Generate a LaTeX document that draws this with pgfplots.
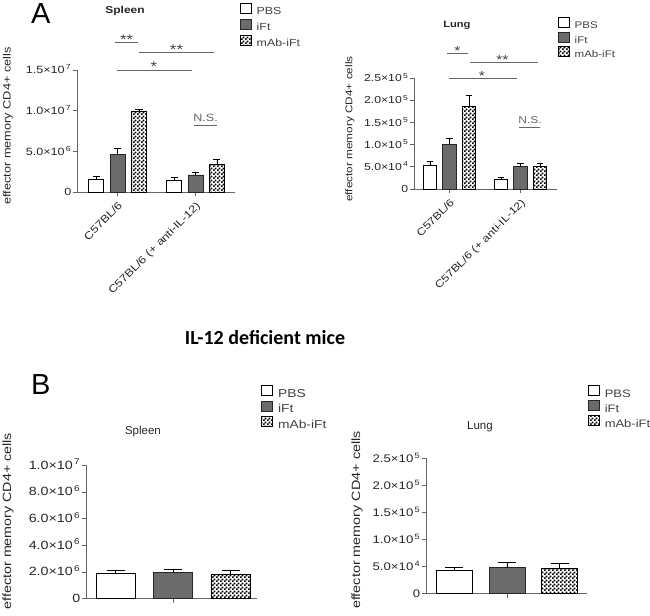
\documentclass[border=0pt]{standalone}
\usepackage{fontspec}
\setmainfont{Liberation Sans}[FakeStretch=1.2]
\newfontfamily\plainsans{Liberation Sans}
\newfontfamily\carlito{Carlito}
\usepackage{pgfplots}
\pgfplotsset{compat=1.18}
\usepackage{pgfplotstable}
\usetikzlibrary{patterns}

\pgfdeclarepatternformonly{finecheck}{\pgfpointorigin}{\pgfpoint{3.6bp}{3.6bp}}{\pgfpoint{3.6bp}{3.6bp}}{%
  \pgfpathrectangle{\pgfpointorigin}{\pgfpoint{1.8bp}{1.8bp}}%
  \pgfpathrectangle{\pgfpoint{1.8bp}{1.8bp}}{\pgfpoint{1.8bp}{1.8bp}}%
  \pgfusepath{fill}}

\newcommand{\fs}[1]{\fontsize{#1bp}{#1bp}\selectfont}
\newcommand{\sci}[3]{\mbox{\fs{#1}#2×10\textsuperscript{\,#3}}}
\newcommand{\zr}[1]{\mbox{\fs{#1}0}}
\newcommand{\lt}[2]{\mbox{\fs{#1}\hspace*{3bp}#2}}
\newcommand{\xl}[2]{\mbox{\fs{#1}#2}}
% y tick label placed at the left axis line: \ytl{xmin}{y}{text}
\newcommand{\ytl}[3]{\node[anchor=base east, inner sep=0pt, text=black!85, xshift=-5.5bp, yshift=-3.8bp] at (axis cs:#1,#2) {#3};}

% Panel A, spleen
\pgfplotstableread{
x pbs pbse ift ifte mab mabe
0 1.56e6 0.32e6 4.59e6 0.74e6 9.97e6 0.21e6
1 1.48e6 0.33e6 2.09e6 0.33e6 3.45e6 0.58e6
}\tabAspleen
% Panel A, lung
\pgfplotstableread{
x pbs pbse ift ifte mab mabe
0 5.40e4 0.84e4 1.007e5 1.42e4 1.853e5 2.48e4
1 2.18e4 0.45e4 5.02e4 0.68e4 5.02e4 0.84e4
}\tabAlung
% Panel B, spleen
\pgfplotstableread{
x pbs pbse ift ifte mab mabe
0 1.90e6 0.19e6 1.98e6 0.19e6 1.83e6 0.30e6
}\tabBspleen
% Panel B, lung
\pgfplotstableread{
x pbs pbse ift ifte mab mabe
0 4.26e4 0.63e4 4.82e4 0.87e4 4.70e4 0.85e4
}\tabBlung

\tikzset{sigline/.style={black!60, line width=0.8bp}}

\pgfplotsset{
  myaxis/.style={
    scale only axis, anchor=south west,
    /pgf/number format/assume math mode=true,
    axis x line*=bottom, axis y line*=left,
    axis line style={black!60, line width=0.8bp},
    tick style={black!60, line width=0.8bp},
    tick align=outside, major tick length=4bp,
    ymin=0, clip=false, scaled y ticks=false,
    legend cell align=left,
    legend image code/.code={\draw[##1, line width=0.8bp] (0bp,-1.5bp) rectangle (11bp,8.5bp);},
  },
  errs/.style={
    error bars/y dir=plus, error bars/y explicit,
    error bars/error bar style={line width=0.8bp, black},
    error bars/error mark options={rotate=90, black, line width=0.8bp, mark size=#1}},
  pbsbar/.style={ybar, bar shift=0pt, draw=black, fill=white, line width=0.8bp},
  iftbar/.style={ybar, bar shift=0pt, draw=black!85, fill=black!58, line width=0.8bp},
  mabbar/.style={ybar, bar shift=0pt, draw=black, pattern=finecheck, pattern color=black, line width=0.8bp},
}

\begin{document}
\begin{tikzpicture}
\path[use as bounding box] (0bp,0bp) rectangle (650bp,616bp);

% letters and heading
\node[anchor=base west, inner sep=0pt, font=\plainsans\fs{29}] at (31bp,592bp) {A};
\node[anchor=base west, inner sep=0pt, font=\plainsans\fs{29}] at (31bp,221bp) {B};
\node[anchor=base, inner sep=0pt, font=\carlito\bfseries\fs{20}] at (265bp,271bp) {IL-12 deficient mice};

% ---------- A spleen ----------
\begin{axis}[myaxis, at={(77bp,424bp)}, width=158bp, height=122bp,
  xmin=-0.52, xmax=1.506, ymax=1.5e7,
  ytick={0,5e6,1e7,1.5e7}, yticklabels={{},{},{},{}},
  xtick={0,1}, xticklabels={\xl{10.5}{C57BL/6},\xl{10.5}{C57BL/6 (+ anti-IL-12)}},
  xticklabel style={rotate=45, anchor=north east, text=black!85},
  ylabel={effector memory CD4+ cells},
  every axis y label/.style={at={(axis description cs:-0.437,0.541)}, rotate=90, anchor=center, font=\fs{10.6}, text=black!85},
  title={Spleen},
  every axis title/.style={at={(axis description cs:0.304,1.488)}, anchor=center, font=\bfseries\fs{10}, text=black!85},
  legend style={at={(axis description cs:1.03,1.55)}, anchor=north west, draw=none, fill=none, inner sep=0pt, row sep=0.5bp,
    text=black!75},
]
\addplot[pbsbar, bar width=0.19, errs=3.5bp] table[x expr=\thisrow{x}-0.275, y=pbs, y error=pbse]{\tabAspleen};
\addplot[iftbar, bar width=0.19, errs=3.5bp] table[x expr=\thisrow{x}, y=ift, y error=ifte]{\tabAspleen};
\addplot[mabbar, bar width=0.19, errs=3.5bp] table[x expr=\thisrow{x}+0.275, y=mab, y error=mabe]{\tabAspleen};
\legend{\lt{10.3}{PBS},\lt{10.3}{iFt},\lt{10.3}{mAb-iFt}}
\ytl{-0.52}{0}{\zr{10.5}}
\ytl{-0.52}{5e6}{\sci{10.5}{5.0}{6}}
\ytl{-0.52}{1e7}{\sci{10.5}{1.0}{7}}
\ytl{-0.52}{1.5e7}{\sci{10.5}{1.5}{7}}
\draw[sigline] (axis cs:-0.03,1.835e7) -- (axis cs:0.263,1.835e7);
\node[anchor=base, font=\fs{14}, text=black!75, yshift=-2bp] at (axis cs:0.116,1.835e7) {**};
\draw[sigline] (axis cs:0.276,1.712e7) -- (axis cs:1.237,1.712e7);
\node[anchor=base, font=\fs{14}, text=black!75, yshift=-2bp] at (axis cs:0.756,1.712e7) {**};
\draw[sigline] (axis cs:-0.006,1.50e7) -- (axis cs:0.955,1.50e7);
\node[anchor=base, font=\fs{14}, text=black!75, yshift=-2bp] at (axis cs:0.465,1.50e7) {*};
\draw[sigline] (axis cs:0.98,8.13e6) -- (axis cs:1.276,8.13e6);
\node[anchor=base, font=\fs{10.5}, text=black!60, yshift=4.5bp] at (axis cs:1.128,8.13e6) {N.S.};
\end{axis}

% ---------- A lung ----------
\begin{axis}[myaxis, at={(414bp,427bp)}, width=143bp, height=111bp,
  xmin=-0.5, xmax=1.514, ymax=2.5e5,
  ytick={0,5e4,1e5,1.5e5,2e5,2.5e5}, yticklabels={{},{},{},{},{},{}},
  xtick={0,1}, xticklabels={\xl{10.3}{C57BL/6},\xl{10.3}{C57BL/6 (+ anti-IL-12)}},
  xticklabel style={rotate=45, anchor=north east, text=black!85},
  ylabel={effector memory CD4+ cells},
  every axis y label/.style={at={(axis description cs:-0.448,0.54)}, rotate=90, anchor=center, font=\fs{9.8}, text=black!85},
  title={Lung},
  every axis title/.style={at={(axis description cs:0.30,1.477)}, anchor=center, font=\bfseries\fs{9.3}, text=black!85},
  legend style={at={(axis description cs:1.005,1.55)}, anchor=north west, draw=none, fill=none, inner sep=0pt, row sep=-0.5bp,
    text=black!75},
]
\addplot[pbsbar, bar width=0.19, errs=3.3bp] table[x expr=\thisrow{x}-0.275, y=pbs, y error=pbse]{\tabAlung};
\addplot[iftbar, bar width=0.19, errs=3.3bp] table[x expr=\thisrow{x}, y=ift, y error=ifte]{\tabAlung};
\addplot[mabbar, bar width=0.19, errs=3.3bp] table[x expr=\thisrow{x}+0.275, y=mab, y error=mabe]{\tabAlung};
\legend{\lt{9.6}{PBS},\lt{9.6}{iFt},\lt{9.6}{mAb-iFt}}
\ytl{-0.5}{0}{\zr{10.2}}
\ytl{-0.5}{5e4}{\sci{10.2}{5.0}{4}}
\ytl{-0.5}{1e5}{\sci{10.2}{1.0}{5}}
\ytl{-0.5}{1.5e5}{\sci{10.2}{1.5}{5}}
\ytl{-0.5}{2e5}{\sci{10.2}{2.0}{5}}
\ytl{-0.5}{2.5e5}{\sci{10.2}{2.5}{5}}
\draw[sigline] (axis cs:-0.035,3.056e5) -- (axis cs:0.26,3.056e5);
\node[anchor=base, font=\fs{13}, text=black!75, yshift=-2bp] at (axis cs:0.113,3.056e5) {*};
\draw[sigline] (axis cs:0.289,2.86e5) -- (axis cs:1.246,2.86e5);
\node[anchor=base, font=\fs{13}, text=black!75, yshift=-2bp] at (axis cs:0.746,2.86e5) {**};
\draw[sigline] (axis cs:-0.007,2.484e5) -- (axis cs:0.951,2.484e5);
\node[anchor=base, font=\fs{13}, text=black!75, yshift=-2bp] at (axis cs:0.458,2.484e5) {*};
\draw[sigline] (axis cs:0.979,1.38e5) -- (axis cs:1.275,1.38e5);
\node[anchor=base, font=\fs{10}, text=black!60, yshift=4.5bp] at (axis cs:1.134,1.38e5) {N.S.};
\end{axis}

% ---------- B spleen ----------
\begin{axis}[myaxis, at={(86bp,17.3bp)}, width=171bp, height=133.4bp,
  xmin=-1.513, xmax=1.46, ymax=1e7,
  ytick={0,2e6,4e6,6e6,8e6,1e7}, yticklabels={{},{},{},{},{},{}},
  xtick={0}, xticklabels={{}},
  ylabel={effector memory CD4+ cells},
  every axis y label/.style={at={(axis description cs:-0.456,0.582)}, rotate=90, anchor=center, font=\fs{11.9}, text=black!85},
  title={Spleen},
  every axis title/.style={at={(axis description cs:0.333,1.25)}, anchor=center, font=\plainsans\fs{11.5}, text=black!85},
  legend style={at={(axis description cs:1.024,1.6)}, anchor=north west, draw=none, fill=none, inner sep=0pt, row sep=-0.5bp,
    text=black!75},
]
\addplot[pbsbar, bar width=0.68, errs=9bp] table[x expr=\thisrow{x}-1, y=pbs, y error=pbse]{\tabBspleen};
\addplot[iftbar, bar width=0.68, errs=9bp] table[x expr=\thisrow{x}, y=ift, y error=ifte]{\tabBspleen};
\addplot[mabbar, bar width=0.68, errs=9bp] table[x expr=\thisrow{x}+1, y=mab, y error=mabe]{\tabBspleen};
\legend{\lt{11.5}{PBS},\lt{11.5}{iFt},\lt{11.5}{mAb-iFt}}
\ytl{-1.513}{0}{\zr{11.9}}
\ytl{-1.513}{2e6}{\sci{11.9}{2.0}{6}}
\ytl{-1.513}{4e6}{\sci{11.9}{4.0}{6}}
\ytl{-1.513}{6e6}{\sci{11.9}{6.0}{6}}
\ytl{-1.513}{8e6}{\sci{11.9}{8.0}{6}}
\ytl{-1.513}{1e7}{\sci{11.9}{1.0}{7}}
\end{axis}

% ---------- B lung ----------
\begin{axis}[myaxis, at={(426bp,22.3bp)}, width=161bp, height=135.4bp,
  xmin=-1.535, xmax=1.517, ymax=2.5e5,
  ytick={0,5e4,1e5,1.5e5,2e5,2.5e5}, yticklabels={{},{},{},{},{},{}},
  xtick={0}, xticklabels={{}},
  ylabel={effector memory CD4+ cells},
  every axis y label/.style={at={(axis description cs:-0.429,0.544)}, rotate=90, anchor=center, font=\fs{12}, text=black!85},
  title={Lung},
  every axis title/.style={at={(axis description cs:0.335,1.231)}, anchor=center, font=\plainsans\fs{11.5}, text=black!85},
  legend style={at={(axis description cs:1.005,1.54)}, anchor=north west, draw=none, fill=none, inner sep=0pt, row sep=-0.5bp,
    text=black!75},
]
\addplot[pbsbar, bar width=0.68, errs=9bp] table[x expr=\thisrow{x}-1, y=pbs, y error=pbse]{\tabBlung};
\addplot[iftbar, bar width=0.68, errs=9bp] table[x expr=\thisrow{x}, y=ift, y error=ifte]{\tabBlung};
\addplot[mabbar, bar width=0.68, errs=9bp] table[x expr=\thisrow{x}+1, y=mab, y error=mabe]{\tabBlung};
\legend{\lt{10.8}{PBS},\lt{10.8}{iFt},\lt{10.8}{mAb-iFt}}
\ytl{-1.535}{0}{\zr{11}}
\ytl{-1.535}{5e4}{\sci{11}{5.0}{4}}
\ytl{-1.535}{1e5}{\sci{11}{1.0}{5}}
\ytl{-1.535}{1.5e5}{\sci{11}{1.5}{5}}
\ytl{-1.535}{2e5}{\sci{11}{2.0}{5}}
\ytl{-1.535}{2.5e5}{\sci{11}{2.5}{5}}
\end{axis}
\end{tikzpicture}
\end{document}
